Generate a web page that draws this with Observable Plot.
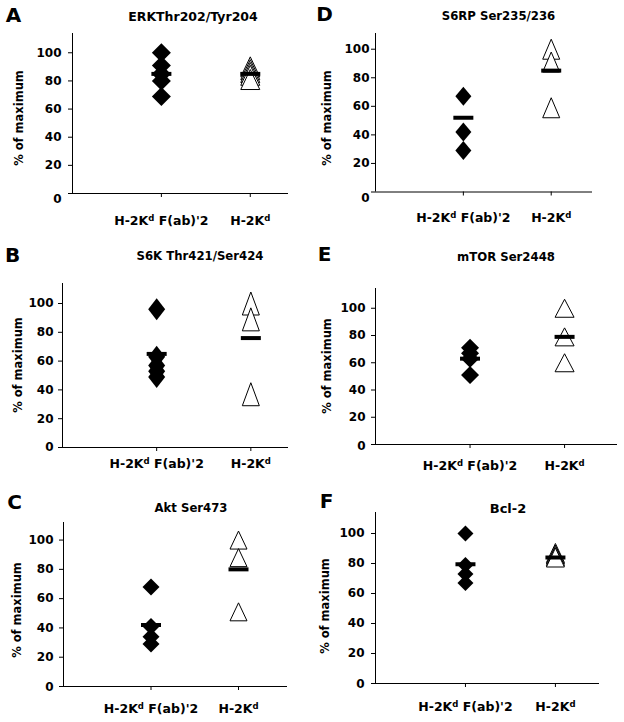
<!DOCTYPE html>
<html><head><meta charset="utf-8">
<script src="https://cdn.jsdelivr.net/npm/d3@7"></script>
<script src="https://cdn.jsdelivr.net/npm/@observablehq/plot@0.6"></script>
<style>
body{margin:0;background:#fff;}
#fig{position:relative;width:624px;height:722px;font-family:"DejaVu Sans",sans-serif;font-weight:bold;color:#000;overflow:hidden;}
.abs{position:absolute;white-space:nowrap;line-height:1;}
.panel{position:absolute;width:312px;height:240px;}
</style></head><body><div id="fig"></div>
<script>
// ---- data ----
const panelLetters = ["A","B","C","D","E","F"];
const titles = ["ERKThr202/Tyr204","S6K Thr421/Ser424","Akt Ser473","S6RP Ser235/236","mTOR Ser2448","Bcl-2"];
const categories = ["H-2Kd F(ab)'2","H-2Kd"];
const yTicks = [0,20,40,60,80,100];
const yLabel = "% of maximum";
// H-2Kd F(ab)'2 group (filled diamonds)
const fabValues = [
  [100,91,85,80,69],
  [96,63,57,53,49],
  [68,41,34,29],
  [67,42,29],
  [71,67,63,51],
  [100,79,73,67]
];
// H-2Kd group (open triangles)
const kdValues = [
  [90,88,86,84,81],
  [100,89,37],
  [100,88,51],
  [100,91,59],
  [100,79,60],
  [87,86,85,84]
];
const fabMean = [85,65,42,52,63,79.5];
const kdMean = [85,76,80,85,79,84];

// ---- layout (positions / sizes / styles) ----
const layout = [
  {pos:[0,0],    m:[33,24,47,72],   ymax:113.7, xmax:2.43, ytp:7, xtp:18.2, zeroDy:6, dia:[19,19], tri:[19,20], title:[193,17,12.5],  letter:[13.5,14.5], ylab:[20,118]},
  {pos:[0,240],  m:[43,24,33,62],   ymax:113.9, xmax:2.4,  ytp:5, xtp:7.2,  zeroDy:0, dia:[17,22], tri:[17,23], title:[200,257,11.7], letter:[12.5,255],  ylab:[19,365]},
  {pos:[0,480],  m:[42,25,34,63],   ymax:112,   xmax:2.56, ytp:6, xtp:13.2, zeroDy:1, dia:[17,17], tri:[17,18], title:[191,509,11.7], letter:[14.5,501.5],ylab:[18,610]},
  {pos:[312,0],  m:[33,32,48.5,63], ymax:111,   xmax:2.47, ytp:2, xtp:17.2, zeroDy:6, dia:[16,19], tri:[17,20], title:[498.5,17,11.7],letter:[324.5,14],  ylab:[328,118]},
  {pos:[312,240],m:[48,7,36,63],    ymax:114.5, xmax:2.56, ytp:6, xtp:12.2, zeroDy:2, dia:[18,18], tri:[19,18], title:[506,258,11.7], letter:[324.5,254], ylab:[328,366]},
  {pos:[312,480],m:[32,25,37,63],   ymax:114,   xmax:2.49, ytp:7, xtp:14.2, zeroDy:1, dia:[16,16], tri:[18,19], title:[508,508,13],   letter:[326.5,501], ylab:[326,606]}
];

const diamondSym = (w,h) => ({draw(c){c.moveTo(0,-h/2);c.lineTo(w/2,0);c.lineTo(0,h/2);c.lineTo(-w/2,0);c.closePath();}});
const triangleSym = (w,h) => ({draw(c){c.moveTo(0,-h/2);c.lineTo(w/2,h/2);c.lineTo(-w/2,h/2);c.closePath();}});
const barSym = {draw(c){c.moveTo(-10,-2);c.lineTo(10,-2);c.lineTo(10,2);c.lineTo(-10,2);c.closePath();}};

const fig = document.getElementById("fig");

function addText(txt, cx, cy, size, rotate){
  const d = document.createElement("div");
  d.className = "abs";
  d.textContent = txt;
  d.style.left = cx + "px";
  d.style.top = cy + "px";
  d.style.fontSize = size + "px";
  d.style.transform = "translate(-50%,-50%)" + (rotate ? " rotate(-90deg)" : "");
  fig.appendChild(d);
}

panelLetters.forEach((letter, i) => {
  const L = layout[i];
  const fabRows = fabValues[i].map(v => ({pos: 1, value: v}));
  const kdRows = kdValues[i].map(v => ({pos: 2, value: v}));
  const meanRows = [{pos: 1, value: fabMean[i]}, {pos: 2, value: kdMean[i]}];

  const svg = Plot.plot({
    width: 312, height: 240,
    marginTop: L.m[0], marginRight: L.m[1], marginBottom: L.m[2], marginLeft: L.m[3],
    x: {domain: [0, L.xmax], axis: null},
    y: {domain: [0, L.ymax], axis: null},
    style: {fontFamily: "DejaVu Sans", fontWeight: "bold", fontSize: "12px", color: "#000", background: "transparent", overflow: "visible"},
    marks: [
      Plot.axisY(yTicks, {tickSize: 4, tickPadding: L.ytp, label: null, stroke: "#000"}),
      Plot.axisX([1, 2], {tickSize: 4, tickPadding: L.xtp, label: null, tickFormat: p => categories[p - 1], stroke: "#000", fontSize: 12.5}),
      Plot.ruleX([0], {stroke: "#000", strokeWidth: 1}),
      Plot.ruleY([0], {stroke: "#000", strokeWidth: 1}),
      Plot.dot(fabRows, {x: "pos", y: "value", r: 9, symbol: diamondSym(L.dia[0], L.dia[1]), fill: "#000", stroke: "none"}),
      Plot.dot(kdRows, {x: "pos", y: "value", r: 9, symbol: triangleSym(L.tri[0], L.tri[1]), fill: "#fff", stroke: "#000", strokeWidth: 1}),
      Plot.dot(meanRows, {x: "pos", y: "value", r: 9, symbol: barSym, fill: "#000", stroke: "none"})
    ]
  });

  // superscript "d" in H-2Kd labels
  d3.select(svg).selectAll('g[aria-label="x-axis tick label"] text').each(function(){
    const t = d3.select(this);
    const s = t.text();
    const k = s.indexOf("Kd");
    if (k < 0) return;
    t.text(null);
    t.append("tspan").text(s.slice(0, k + 1));
    t.append("tspan").attr("dy", "-4").attr("font-size", "8.5px").text("d");
    const rest = s.slice(k + 2);
    if (rest) t.append("tspan").attr("dy", "4").text(rest);
  });
  // the "0" tick label sits a little lower in the original
  d3.select(svg).selectAll('g[aria-label="y-axis tick label"] text').each(function(){
    if (d3.select(this).text() === "0" && L.zeroDy) {
      const t = d3.select(this);
      const tr = t.attr("transform") || "";
      t.attr("transform", tr + ` translate(0,${L.zeroDy})`);
    }
  });

  const wrap = document.createElement("div");
  wrap.className = "panel";
  wrap.style.left = L.pos[0] + "px";
  wrap.style.top = L.pos[1] + "px";
  wrap.appendChild(svg);
  fig.appendChild(wrap);

  addText(titles[i], L.title[0], L.title[1], L.title[2], false);
  addText(letter, L.letter[0], L.letter[1], 20, false);
  addText(yLabel, L.ylab[0], L.ylab[1], 11.5, true);
});
</script>
</body></html>
